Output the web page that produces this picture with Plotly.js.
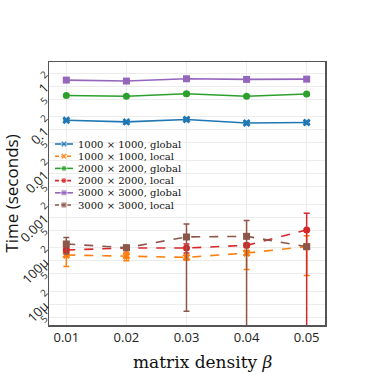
<!DOCTYPE html>
<html>
<head>
<meta charset="utf-8">
<script src="https://cdn.plot.ly/plotly-3.0.1.min.js"></script>
<style>
  html, body { margin: 0; padding: 0; background: #fff; }
  #chart { width: 374px; height: 374px; }
</style>
</head>
<body>
<div id="chart"></div>
<script>
// matrix density β (x axis)
const density = [0.01, 0.02, 0.03, 0.04, 0.05];

// series labels
const labels = [
  '1000 × 1000, global',
  '1000 × 1000, local',
  '2000 × 2000, global',
  '2000 × 2000, local',
  '3000 × 3000, global',
  '3000 × 3000, local',
];

// mean time (seconds) and std error per series
const g1000     = [0.166, 0.152, 0.173, 0.144, 0.147];
const g1000Err  = [0.006, 0.005, 0.012, 0.012, 0.008];
const l1000     = [1.36e-4, 1.29e-4, 1.20e-4, 1.51e-4, 2.11e-4];
const l1000Err  = [6.2e-5, 2.9e-5, 1.5e-5, 8.8e-5, 1.65e-4];
const g2000     = [0.614, 0.590, 0.670, 0.590, 0.660];
const g2000Err  = [0.02, 0.01, 0.06, 0.02, 0.03];
const l2000     = [1.77e-4, 1.97e-4, 1.97e-4, 2.26e-4, 5.10e-4];
const l2000Err  = [1.5e-5, 1.5e-5, 4.5e-5, 2.5e-5, 7.2e-4];
const g3000     = [1.38, 1.31, 1.48, 1.43, 1.45];
const g3000Err  = [0.05, 0.04, 0.05, 0.04, 0.06];
const l3000     = [2.43e-4, 2.00e-4, 3.52e-4, 3.64e-4, 2.11e-4];
const l3000Err  = [1.0e-4, 2.0e-5, 3.45e-4, 4.7e-4, 1.5e-5];

const COLORS  = ['#1f77b4', '#ff7f0e', '#2ca02c', '#d62728', '#9467bd', '#8c564b'];
const SYMBOLS = ['x', 'x', 'circle', 'circle', 'square', 'square'];
const DASHES  = ['solid', 'dash', 'solid', 'dash', 'solid', 'dash'];

const series = [
  [g1000, g1000Err], [l1000, l1000Err],
  [g2000, g2000Err], [l2000, l2000Err],
  [g3000, g3000Err], [l3000, l3000Err],
];

const SERIF = "'DejaVu Serif', 'Liberation Serif', serif";
const SANS  = "'Open Sans', 'Noto Sans', sans-serif";

// data traces
const traces = series.map(([y, err], i) => ({
  x: density,
  y,
  name: labels[i],
  mode: 'lines+markers',
  line: { color: COLORS[i], width: 1.6, dash: DASHES[i] },
  marker: { color: COLORS[i], symbol: SYMBOLS[i], size: SYMBOLS[i] === 'x' ? 7 : 7 },
  error_y: { type: 'data', array: err, visible: true, color: COLORS[i], thickness: 1.5, width: 3 },
  showlegend: false,
}));

// compact legend drawn on a pixel-unit overlay axis
const LEG_X0 = 55, LEG_X1 = 73, LEG_Y0 = 144, LEG_STEP = 12.2;
labels.forEach((lab, i) => {
  const yy = LEG_Y0 + i * LEG_STEP;
  traces.push({
    x: [LEG_X0, (LEG_X0 + LEG_X1) / 2, LEG_X1],
    y: [yy, yy, yy],
    xaxis: 'x2', yaxis: 'y2',
    mode: 'lines+markers',
    line: { color: COLORS[i], width: 1.6, dash: DASHES[i] === 'dash' ? '4px,2px' : 'solid' },
    marker: { color: COLORS[i], symbol: SYMBOLS[i], size: [0, 6, 0] },
    hoverinfo: 'skip',
    showlegend: false,
  });
});

const annotations = labels.map((lab, i) => ({
  xref: 'x2', yref: 'y2',
  x: LEG_X1 + 3, y: LEG_Y0 + i * LEG_STEP,
  text: lab,
  showarrow: false,
  xanchor: 'left', yanchor: 'middle',
  font: { family: SERIF, size: 10, color: '#111' },
}));

// x title (sits slightly right of centre in the reference)
annotations.push({
  xref: 'paper', yref: 'paper',
  x: 0.558, y: -0.095,
  text: 'matrix density <i>β</i>',
  showarrow: false,
  xanchor: 'center', yanchor: 'top',
  font: { family: SERIF, size: 17, color: '#111' },
});

const layout = {
  width: 374,
  height: 374,
  margin: { t: 62, b: 49, l: 49, r: 49 },
  paper_bgcolor: '#fff',
  plot_bgcolor: '#fff',
  font: { family: SANS, color: '#222', size: 13 },
  showlegend: false,
  xaxis: {
    range: [0.00712, 0.05305],
    tickvals: density,
    ticktext: density.map(d => d.toFixed(2)),
    ticks: '',
    showgrid: true,
    gridcolor: '#ececec',
    zeroline: false,
    showline: true,
    mirror: true,
    linecolor: '#555',
    linewidth: 1.5,
    tickfont: { family: SANS, size: 13, color: '#222' },
  },
  yaxis: {
    type: 'log',
    range: [-5.47, 0.554],
    dtick: 'D2',
    tickangle: -45,
    ticks: '',
    showgrid: true,
    gridcolor: '#ececec',
    zeroline: false,
    showline: true,
    mirror: true,
    linecolor: '#555',
    linewidth: 1.5,
    tickfont: { family: SANS, size: 13, color: '#222' },
    title: { text: 'Time (seconds)', font: { family: SANS, size: 17, color: '#111' }, standoff: 6 },
  },
  xaxis2: { overlaying: 'x', range: [49, 325], visible: false, fixedrange: true },
  yaxis2: { overlaying: 'y', range: [325, 62], visible: false, fixedrange: true },
  annotations,
};

Plotly.newPlot('chart', traces, layout, { displayModeBar: false, responsive: false, staticPlot: true });
</script>
</body>
</html>
